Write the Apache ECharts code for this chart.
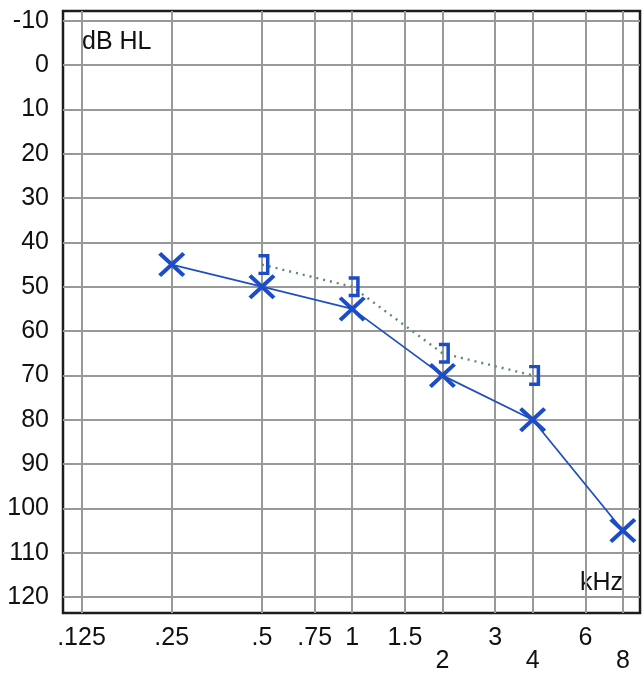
<!DOCTYPE html>
<html>
<head>
<meta charset="utf-8">
<script src="https://cdn.jsdelivr.net/npm/echarts@6/dist/echarts.min.js"></script>
<style>
html,body{margin:0;padding:0;background:#fff;}
#chart{width:644px;height:681px;}
</style>
</head>
<body>
<div id="chart"></div>
<script>
// ---- data ----
const airFreqs = [0.25, 0.5, 1, 2, 4, 8];           // kHz
const airDb = [45, 50, 55, 70, 80, 105];             // dB HL
const boneFreqs = [0.5, 1, 2, 4];                    // kHz
const boneDb = [45, 50, 65, 70];                     // dB HL
const xTickFreqs = [0.125, 0.25, 0.5, 0.75, 1, 1.5, 2, 3, 4, 6, 8];
const xTickLabels = ['.125', '.25', '.5', '.75', '1', '1.5', '2', '3', '4', '6', '8'];
const lowerRowLabels = ['2', '4', '8'];
const yTicks = [-10, 0, 10, 20, 30, 40, 50, 60, 70, 80, 90, 100, 110, 120];

// octave scale (log2 relative to 125 Hz)
const oct = f => Math.log2(f / 0.125);
const xTickOct = xTickFreqs.map(oct);

const BLUE = '#1b4cc9';
const FONT = '"Liberation Sans", Arial, sans-serif';
const X_PATH = 'path://M2.6,0 L12,9.4 L21.4,0 L24,2.6 L14.6,12 L24,21.4 L21.4,24 L12,14.6 L2.6,24 L0,21.4 L9.4,12 L0,2.6 Z';
const BRACKET_PATH = 'path://M0,0 L11,0 L11,21 L0,21 L0,17.6 L7.5,17.6 L7.5,3.4 L0,3.4 Z';

const chart = echarts.init(document.getElementById('chart'), null, {renderer: 'canvas'});
chart.setOption({
  animation: false,
  backgroundColor: '#fff',
  grid: {
    left: 63, top: 11, right: 4, bottom: 68,
    show: true, borderColor: '#1c1c1c', borderWidth: 2.5, backgroundColor: 'transparent'
  },
  xAxis: {
    type: 'value',
    min: -0.205, max: 6.19,
    axisLine: {show: false},
    axisTick: {show: false, customValues: xTickOct},
    axisLabel: {
      customValues: xTickOct,
      fontSize: 25, lineHeight: 23, margin: 14, color: '#111', fontFamily: FONT,
      formatter: function (v) {
        let idx = xTickOct.findIndex(t => Math.abs(t - v) < 1e-6);
        if (idx < 0) return '';
        const lab = xTickLabels[idx];
        return lowerRowLabels.indexOf(lab) >= 0 ? '\n' + lab : lab;
      }
    },
    splitLine: {show: true, lineStyle: {color: '#999999', width: 2}}
  },
  yAxis: {
    type: 'value',
    inverse: true,
    min: -12.2, max: 123.6,
    axisLine: {show: false},
    axisTick: {show: false, customValues: yTicks},
    axisLabel: {customValues: yTicks, fontSize: 25, margin: 14, color: '#111', fontFamily: FONT},
    splitLine: {show: true, lineStyle: {color: '#999999', width: 2}}
  },
  graphic: [
    {type: 'text', left: 82, top: 30, style: {text: 'dB HL', font: '25px ' + FONT, fill: '#111'}},
    {type: 'text', right: 21, top: 571, style: {text: 'kHz', font: '25px ' + FONT, fill: '#111'}}
  ],
  series: [
    {
      name: 'bone',
      type: 'line',
      data: boneFreqs.map((f, i) => [oct(f), boneDb[i]]),
      symbol: BRACKET_PATH,
      symbolSize: [11, 21],
      symbolOffset: [2, 0],
      itemStyle: {color: BLUE},
      lineStyle: {color: '#5f8a74', width: 2.4, type: [2, 5]},
      z: 3
    },
    {
      name: 'air',
      type: 'line',
      data: airFreqs.map((f, i) => [oct(f), airDb[i]]),
      symbol: X_PATH,
      symbolSize: [27, 25],
      itemStyle: {color: BLUE},
      lineStyle: {color: '#2050c0', width: 1.8},
      z: 4
    }
  ]
});
</script>
</body>
</html>
